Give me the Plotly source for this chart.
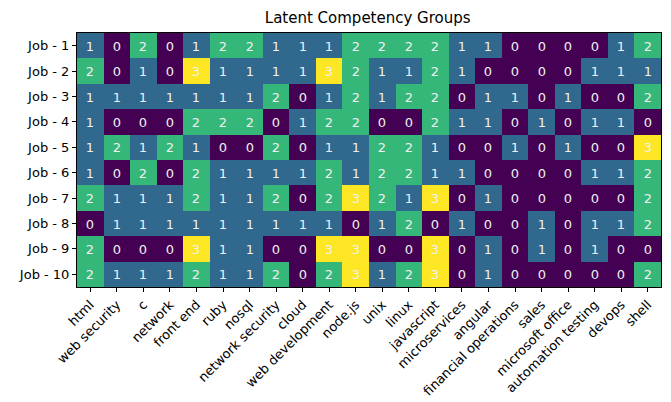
import plotly.graph_objects as go

skills = ["html", "web security", "c", "network", "front end", "ruby", "nosql",
          "network security", "cloud", "web development", "node.js", "unix", "linux",
          "javascript", "microservices", "angular", "financial operations", "sales",
          "microsoft office", "automation testing", "devops", "shell"]
jobs = ["Job - 1", "Job - 2", "Job - 3", "Job - 4", "Job - 5",
        "Job - 6", "Job - 7", "Job - 8", "Job - 9", "Job - 10"]

job_1 = [1, 0, 2, 0, 1, 2, 2, 1, 1, 1, 2, 2, 2, 2, 1, 1, 0, 0, 0, 0, 1, 2]
job_2 = [2, 0, 1, 0, 3, 1, 1, 1, 1, 3, 2, 1, 1, 2, 1, 0, 0, 0, 0, 1, 1, 1]
job_3 = [1, 1, 1, 1, 1, 1, 1, 2, 0, 1, 2, 1, 2, 2, 0, 1, 1, 0, 1, 0, 0, 2]
job_4 = [1, 0, 0, 0, 2, 2, 2, 0, 1, 2, 2, 0, 0, 2, 1, 1, 0, 1, 0, 1, 1, 0]
job_5 = [1, 2, 1, 2, 1, 0, 0, 2, 0, 1, 1, 2, 2, 1, 0, 0, 1, 0, 1, 0, 0, 3]
job_6 = [1, 0, 2, 0, 2, 1, 1, 1, 1, 2, 1, 2, 2, 1, 1, 0, 0, 0, 0, 1, 1, 2]
job_7 = [2, 1, 1, 1, 2, 1, 1, 2, 0, 2, 3, 2, 1, 3, 0, 1, 0, 0, 0, 0, 0, 2]
job_8 = [0, 1, 1, 1, 1, 1, 1, 1, 1, 1, 0, 1, 2, 0, 1, 0, 0, 1, 0, 1, 1, 2]
job_9 = [2, 0, 0, 0, 3, 1, 1, 0, 0, 3, 3, 0, 0, 3, 0, 1, 0, 1, 0, 1, 0, 0]
job_10 = [2, 1, 1, 1, 2, 1, 1, 2, 0, 2, 3, 1, 2, 3, 0, 1, 0, 0, 0, 0, 0, 2]

z = [job_1, job_2, job_3, job_4, job_5, job_6, job_7, job_8, job_9, job_10]

fig = go.Figure(go.Heatmap(
    z=z, x=skills, y=jobs,
    colorscale="Viridis", zmin=0, zmax=3, showscale=False,
    texttemplate="%{z}", textfont=dict(color="#f0f0f0", size=13,
                                       family="DejaVu Sans"),
))

fig.update_layout(
    width=671, height=402,
    margin=dict(l=77, r=10, t=33, b=115, autoexpand=False),
    paper_bgcolor="white", plot_bgcolor="white",
    font=dict(family="DejaVu Sans", size=13, color="black"),
    title=dict(text="Latent Competency Groups", x=0.548, xanchor="center",
               y=1 - 18 / 402, yanchor="middle", font=dict(size=15)),
)
fig.update_xaxes(tickangle=-45, ticks="outside", ticklen=4, tickcolor="black",
                 showline=True, linecolor="black", linewidth=1, mirror=True,
                 showgrid=False, zeroline=False, automargin=False,
                 tickfont=dict(size=13))
fig.update_yaxes(autorange="reversed", ticks="outside", ticklen=4, tickcolor="black",
                 showline=True, linecolor="black", linewidth=1, mirror=True,
                 showgrid=False, zeroline=False, automargin=False,
                 tickfont=dict(size=13))

fig.write_html("out.html",
               config={"displayModeBar": False},
               post_script="document.body.style.margin='0';"
                           "document.body.style.overflow='hidden';")
